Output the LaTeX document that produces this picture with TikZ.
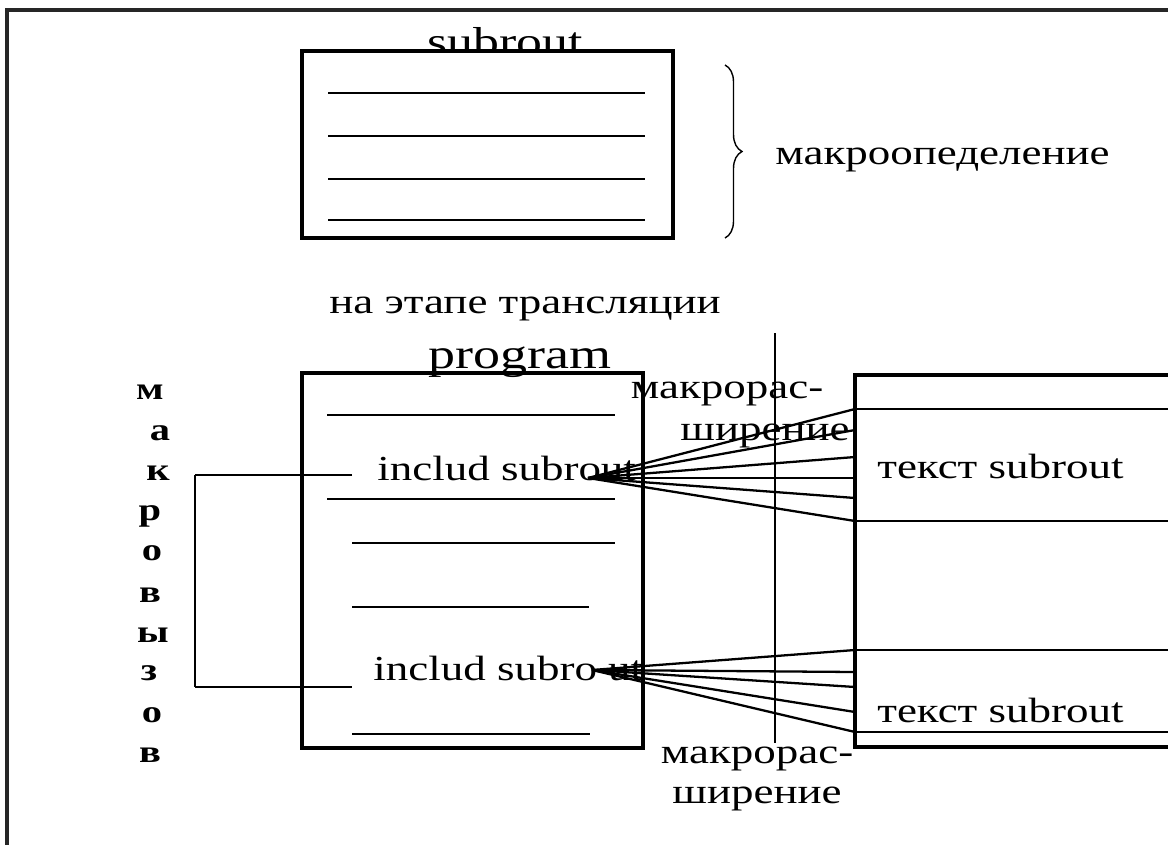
\documentclass[tikz,border=0pt]{standalone}
\usepackage{fontspec}
\setmainfont{Liberation Serif}[FakeStretch=1.28]
\usetikzlibrary{decorations.pathreplacing}
\begin{document}
\begin{tikzpicture}[x=0.02cm,y=-0.02cm,
  frame/.style={line width=2.2pt, black!85},
  boxline/.style={line width=2pt},
  inner/.style={line width=1.6pt},
  fan/.style={line width=1.3pt},
  thinl/.style={line width=0.8pt},
  txt/.style={inner sep=0pt, anchor=base west, font=\fontsize{20}{24}\selectfont},
  ctxt/.style={inner sep=0pt, anchor=base, font=\fontsize{20}{24}\selectfont},
  big/.style={inner sep=0pt, anchor=base, font=\fontsize{23}{27}\selectfont},
  vlet/.style={inner sep=0pt, anchor=base, font=\fontsize{18}{21}\selectfont\bfseries}]
\useasboundingbox (0,0) rectangle (1168,844);
% outer frame (partly off the page)
\draw[frame] (7,860) -- (7,10) -- (1180,10);

% ---- macro definition ----
\node[big] (tsub) at (505,56) {subrout};
\draw[boxline, fill=white] (302,51) rectangle (673,238);
\foreach \yy in {93,136,179,220} \draw[inner] (328,\yy) -- (645,\yy);
\coordinate (brT) at (725,65);
\coordinate (brB) at (725,238);
\draw[thinl, decorate, decoration={brace, amplitude=0.34cm}] (brT) -- (brB);
\node[txt] (mdef) at (775,165) {макроопеделение};

% ---- translation stage ----
\node[ctxt] (stage) at (525,313) {на этапе трансляции};
\node[big, font=\fontsize{24}{28}\selectfont] (prog) at (520,368) {program};
\draw[boxline] (302,373) rectangle (643,748);
\draw[inner] (327,415) -- (615,415);
\draw[inner] (327,499) -- (615,499);
\draw[inner] (352,543) -- (615,543);
\draw[inner] (352,607) -- (589,607);
\draw[inner] (352,734) -- (590,734);
\node[txt] (inc1) at (377,480) {includ subrout};
\node[txt] (inc2) at (373,680) {includ subro ut};

% macro calls bracket
\coordinate (c1) at (352,475);
\coordinate (c2) at (352,687);
\coordinate (b1) at (195,475);
\coordinate (b2) at (195,687);
\draw[thinl] (c1) -- (b1);
\draw[line width=1.4pt] (b1) -- (b2);
\draw[thinl] (b2) -- (c2);

\node[vlet] (v1) at (150,399) {м};
\node[vlet] (v2) at (160,440) {а};
\node[vlet] (v3) at (158,480) {к};
\node[vlet] (v4) at (150,520) {р};
\node[vlet] (v5) at (152,560) {о};
\node[vlet] (v6) at (150,602) {в};
\node[vlet] (v7) at (153,642) {ы};
\node[vlet] (v8) at (149,680) {з};
\node[vlet] (v9) at (152,722) {о};
\node[vlet] (v10) at (150,762) {в};

% separator
\coordinate (sepT) at (775,333);
\coordinate (sepB) at (775,743);
\draw[inner] (sepT) -- (sepB);

% expanded text (right)
\draw[boxline] (1180,375) -- (855,375) -- (855,747) -- (1180,747);
\foreach \yy in {409,521,650,732} \draw[inner] (855,\yy) -- (1180,\yy);
\node[txt] (t1) at (877,478) {текст subrout};
\node[txt] (t2) at (877,722) {текст subrout};

% labels
\node[ctxt] (m1a) at (727,398) {макрорас-};
\node[ctxt] (m1b) at (765,440) {ширение};
\node[ctxt] (m2a) at (757,763) {макрорас-};
\node[ctxt] (m2b) at (757,803) {ширение};

% fans
\coordinate (o1) at (588,478);
\foreach \yy [count=\i] in {409,430,457,478,498,521} {
  \coordinate (e1\i) at (855,\yy);
  \draw[fan] (o1) -- (e1\i);
}
\coordinate (o2) at (592,670);
\foreach \yy [count=\i] in {650,672,687,712,732} {
  \coordinate (e2\i) at (855,\yy);
  \draw[fan] (o2) -- (e2\i);
}
\end{tikzpicture}
\end{document}
